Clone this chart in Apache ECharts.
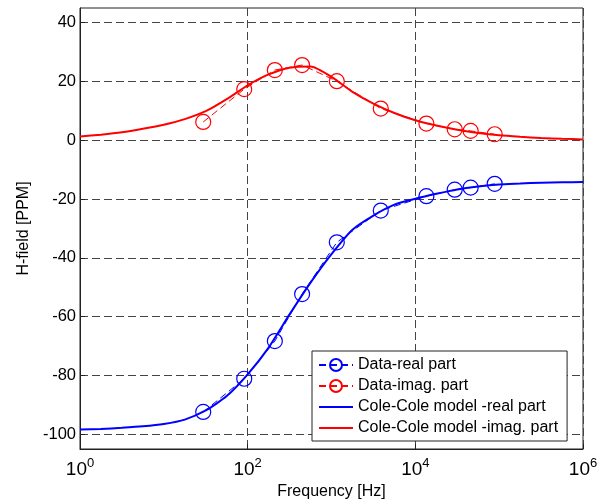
<!DOCTYPE html>
<html><head><meta charset="utf-8">
<script src="https://cdn.jsdelivr.net/npm/echarts@6/dist/echarts.min.js"></script>
<style>html,body{margin:0;padding:0;background:#fff}#c{width:605px;height:500px}</style>
</head><body><div id="c"></div>
<script>
// Measured data points (frequency in Hz, field in PPM)
const dataFreq = [29.5, 91, 211, 446, 1157, 3870, 13550, 29500, 45700, 88400];
const dataReal = [-92.4, -81.1, -68.3, -52.3, -34.7, -23.9, -19.0, -16.8, -16.1, -14.8];
const dataImag = [6.25, 17.4, 23.9, 25.6, 20.1, 10.8, 5.7, 3.75, 3.2, 2.05];
// Model curves at these log10(frequency) positions
const modelLogFreq = [0, 0.25, 0.5, 0.75, 1, 1.25, 1.5, 1.75, 2, 2.25, 2.5, 2.75, 3, 3.25, 3.5, 3.75, 4, 4.25, 4.5, 4.75, 5, 5.25, 5.5, 5.75, 6];
const modelReal = [-98.4, -98.2, -97.8, -97.3, -96.5, -95.0, -91.9, -87.0, -79.6, -70.5, -59.2, -48.4, -38.7, -30.4, -25.6, -21.9, -19.9, -18.2, -16.7, -15.7, -15.0, -14.7, -14.4, -14.3, -14.2];
const modelImag = [1.3, 1.9, 2.7, 3.9, 5.3, 7.2, 9.9, 14.0, 18.7, 22.4, 24.7, 25.1, 21.6, 16.5, 12.5, 9.3, 6.8, 5.0, 3.6, 2.5, 1.7, 1.2, 0.8, 0.5, 0.3];
// Tick values
const xTicks = [1, 100, 10000, 1000000];
const yTicks = [-100, -80, -60, -40, -20, 0, 20, 40];
const seriesNames = ['Data-real part', 'Data-imag. part', 'Cole-Cole model -real part', 'Cole-Cole model -imag. part'];

const FONT = 'Liberation Sans';
const AX = '#222';
const pair = (xs, ys) => xs.map((x, i) => [x, ys[i]]);
const modelFreq = modelLogFreq.map(l => Math.pow(10, l));

const chart = echarts.init(document.getElementById('c'), null, {renderer: 'canvas'});
chart.setOption({
  animation: false,
  backgroundColor: '#fff',
  grid: {left: 80, right: 22, top: 8, bottom: 51, containLabel: false, outerBoundsMode: 'none',
         show: true, borderColor: AX, borderWidth: 1, backgroundColor: 'transparent'},
  legend: {
    orient: 'vertical', left: 312, top: 351, padding: [6, 9, 5, 6], itemGap: 5,
    itemWidth: 34, itemHeight: 15, backgroundColor: '#fff', borderColor: AX, borderWidth: 1,
    textStyle: {fontSize: 16, fontFamily: FONT, color: '#000'},
    data: [
      {name: seriesNames[0]},
      {name: seriesNames[1]},
      {name: seriesNames[2], itemStyle: {opacity: 0}},
      {name: seriesNames[3], itemStyle: {opacity: 0}}
    ]
  },
  xAxis: {
    type: 'log', logBase: 10, min: 1, max: 1000000,
    name: 'Frequency [Hz]', nameLocation: 'middle', nameGap: 34,
    nameTextStyle: {fontSize: 16, fontFamily: FONT, color: '#000'},
    axisLine: {show: true, onZero: false, lineStyle: {color: AX}},
    axisTick: {show: true, inside: true, length: 5, customValues: xTicks, lineStyle: {color: AX}},
    axisLabel: {
      customValues: xTicks, margin: 8, color: '#000', fontFamily: FONT,
      formatter: v => '{b|10}{s|' + Math.round(Math.log10(v)) + '}',
      rich: {b: {fontSize: 19, fontFamily: FONT, color: '#000', verticalAlign: 'bottom'},
             s: {fontSize: 13, fontFamily: FONT, color: '#000', verticalAlign: 'bottom', padding: [0, 0, 9, 0]}}
    },
    splitLine: {show: true, lineStyle: {type: [8, 4], color: '#444', width: 1}}
  },
  yAxis: {
    type: 'value', min: -105, max: 45,
    name: 'H-field [PPM]', nameLocation: 'middle', nameGap: 46,
    nameTextStyle: {fontSize: 16, fontFamily: FONT, color: '#000'},
    axisLine: {show: true, onZero: false, lineStyle: {color: AX}},
    axisTick: {show: true, inside: true, length: 5, customValues: yTicks, lineStyle: {color: AX}},
    axisLabel: {customValues: yTicks, fontSize: 16.5, fontFamily: FONT, color: '#000', margin: 4},
    splitLine: {show: true, lineStyle: {type: [8, 4], color: '#444', width: 1}}
  },
  series: [
    {name: seriesNames[0], type: 'line', data: pair(dataFreq, dataReal), symbol: 'circle', symbolSize: 15,
     itemStyle: {color: 'rgba(255,255,255,0)', borderColor: '#0000ff', borderWidth: 1.2},
     lineStyle: {color: '#0000ff', width: 1, type: [7, 4]}, emphasis: {disabled: true}},
    {name: seriesNames[1], type: 'line', data: pair(dataFreq, dataImag), symbol: 'circle', symbolSize: 15,
     itemStyle: {color: 'rgba(255,255,255,0)', borderColor: '#ff0000', borderWidth: 1.2},
     lineStyle: {color: '#ff0000', width: 1, type: [7, 4]}, emphasis: {disabled: true}},
    {name: seriesNames[2], type: 'line', data: pair(modelFreq, modelReal), symbol: 'none', smooth: 0.2,
     itemStyle: {color: '#0000ff'}, lineStyle: {color: '#0000ff', width: 2}, emphasis: {disabled: true}},
    {name: seriesNames[3], type: 'line', data: pair(modelFreq, modelImag), symbol: 'none', smooth: 0.2,
     itemStyle: {color: '#ff0000'}, lineStyle: {color: '#ff0000', width: 2}, emphasis: {disabled: true}}
  ]
});
</script></body></html>
